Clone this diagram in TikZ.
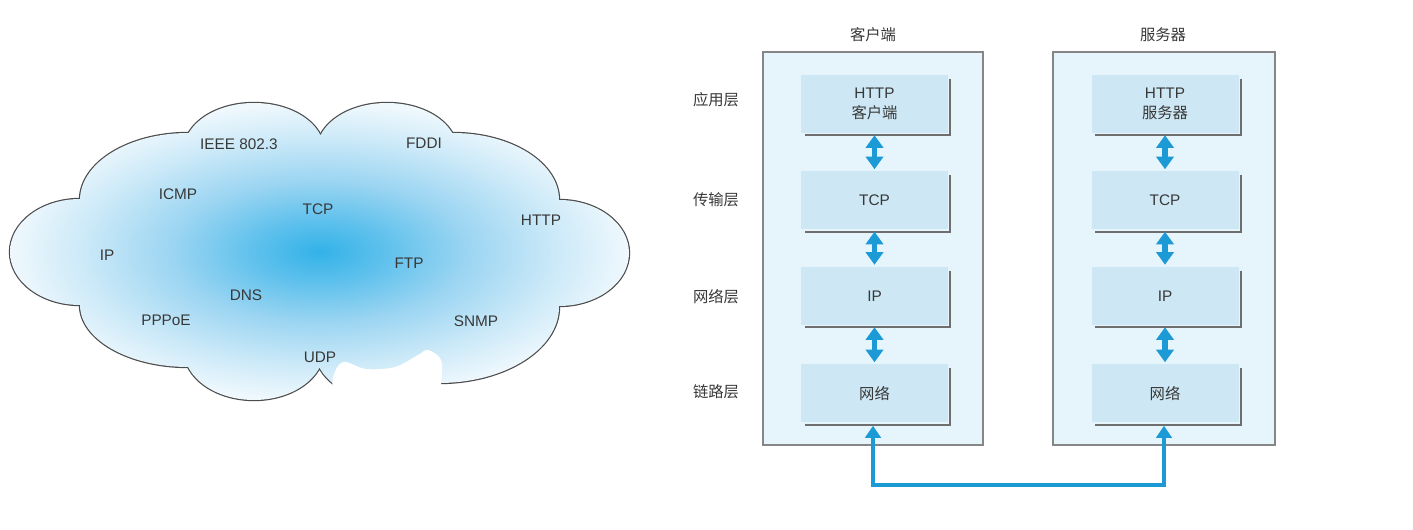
\documentclass[tikz,border=0pt]{standalone}
\usepackage{fontspec}
\setmainfont{Liberation Sans}
\newfontfamily\cjk{Noto Sans CJK SC}
\usetikzlibrary{arrows.meta,calc}
\definecolor{cloudA}{HTML}{33B2E8}
\definecolor{cloudB}{HTML}{5CC0EC}
\definecolor{cloudC}{HTML}{9CD5F2}
\definecolor{cloudD}{HTML}{CBE9F8}
\definecolor{cloudE}{HTML}{EFF8FD}
\definecolor{txt}{HTML}{383838}
\definecolor{outerfill}{HTML}{E6F4FB}
\definecolor{innerfill}{HTML}{CDE7F4}
\definecolor{framegray}{HTML}{868686}
\definecolor{shadowgray}{HTML}{6E6E6E}
\definecolor{arrowblue}{HTML}{1B9AD6}
\pgfdeclareradialshading{cloudshade}{\pgfpoint{0bp}{0bp}}{color(0bp)=(cloudA); color(5bp)=(cloudB); color(12bp)=(cloudC); color(19bp)=(cloudD); color(25bp)=(cloudE); color(50bp)=(white)}
\tikzset{
  cloudline/.style={draw=black!70, line width=1.8pt},
  proto/.style={font=\fontsize{11.5}{13}\selectfont, text=txt, inner sep=0pt, anchor=center},
  cjklabel/.style={font=\cjk\fontsize{11.5}{13}\selectfont, text=txt, inner sep=0pt, anchor=center},
  outerbox/.style={draw=framegray, fill=outerfill, line width=0.8pt, inner sep=0pt},
  layerbox/.style={fill=innerfill, minimum width=110.25pt, minimum height=43.5pt, inner sep=0pt, text=txt, font=\fontsize{11.5}{15}\selectfont, align=center},
  shadowline/.style={draw=shadowgray, line width=1.6pt},
  dblarrow/.style={draw=arrowblue, line width=4pt, {Triangle[width=13pt,length=9.5pt]}-{Triangle[width=13pt,length=9.5pt]}, shorten <=1.5pt, shorten >=1.5pt},
  busarrow/.style={draw=arrowblue, line width=3pt, line join=miter, {Triangle[width=11.5pt,length=9pt]}-{Triangle[width=11.5pt,length=9pt]}}
}
\begin{document}
\begin{tikzpicture}[x=0.75pt,y=-0.75pt]
\useasboundingbox (0,0) rectangle (1413,530);
% ---------- cloud ----------
\foreach \cx/\cy/\ra/\rb in {80/252/70/53, 188/200/108/67, 254/150/70/47, 387/150/70/47, 453/200/106/67, 559/253/70/53, 439/307/120/76, 385/350/70/50, 254/350/70/50, 188/305/108/62}
  {\draw[cloudline] (\cx,\cy) ellipse [x radius=\ra, y radius=\rb];}
\shade[shading=cloudshade]
  (80,252) ellipse [x radius=70, y radius=53]
  (188,200) ellipse [x radius=108, y radius=67]
  (254,150) ellipse [x radius=70, y radius=47]
  (387,150) ellipse [x radius=70, y radius=47]
  (453,200) ellipse [x radius=106, y radius=67]
  (559,253) ellipse [x radius=70, y radius=53]
  (439,307) ellipse [x radius=120, y radius=76]
  (385,350) ellipse [x radius=70, y radius=50]
  (254,350) ellipse [x radius=70, y radius=50]
  (188,305) ellipse [x radius=108, y radius=62]
  (320,252) ellipse [x radius=250, y radius=110];
\fill[white] plot[smooth cycle, tension=0.55] coordinates {(333,378) (343,362) (366,369) (395,367) (418,355) (428,350) (441,360) (441,384) (436,396) (420,412) (360,414) (336,400)};
\node[proto] (ieee) at (239,144) {IEEE 802.3};
\node[proto] (fddi) at (424,143) {FDDI};
\node[proto] (icmp) at (178,194) {ICMP};
\node[proto] (tcpc) at (318,209) {TCP};
\node[proto] (httpc) at (541,220) {HTTP};
\node[proto] (ipc) at (107,255) {IP};
\node[proto] (ftp) at (409,263) {FTP};
\node[proto] (dns) at (246,295) {DNS};
\node[proto] (pppoe) at (166,320) {PPPoE};
\node[proto] (snmp) at (476,321) {SNMP};
\node[proto] (udp) at (320,357) {UDP};
% ---------- layers ----------
\node[outerbox, minimum width=165pt, minimum height=294.75pt] (client) at (873,248.5) {};
\node[outerbox, minimum width=166.5pt, minimum height=294.75pt] (server) at (1164,248.5) {};
\node[cjklabel] (ctitle) at (873,35) {客户端};
\node[cjklabel] (stitle) at (1163,35) {服务器};
\node[cjklabel] (l1) at (716,100) {应用层};
\node[cjklabel] (l2) at (716,200) {传输层};
\node[cjklabel] (l3) at (716,297) {网络层};
\node[cjklabel] (l4) at (716,392) {链路层};
\node[layerbox] (c1) at (874.5,104) {HTTP\\{\cjk 客户端}};
\node[layerbox] (c2) at (874.5,200.5) {TCP};
\node[layerbox] (c3) at (874.5,296) {IP};
\node[layerbox] (c4) at (874.5,393.5) {\cjk 网络};
\node[layerbox] (s1) at (1165,104) {HTTP\\{\cjk 服务器}};
\node[layerbox] (s2) at (1165,200.5) {TCP};
\node[layerbox] (s3) at (1165,296) {IP};
\node[layerbox] (s4) at (1165,393.5) {\cjk 网络};
\foreach \b in {c1,c2,c3,c4,s1,s2,s3,s4}
  {\draw[shadowline] ($(\b.north east)+(2,4)$) -- ($(\b.south east)+(2,2)$) -- ($(\b.south west)+(4,2)$);}
\draw[dblarrow] (c1.south) -- (c2.north);
\draw[dblarrow] (c2.south) -- (c3.north);
\draw[dblarrow] (c3.south) -- (c4.north);
\draw[dblarrow] (s1.south) -- (s2.north);
\draw[dblarrow] (s2.south) -- (s3.north);
\draw[dblarrow] (s3.south) -- (s4.north);
\coordinate (bus) at (1000,485);
\draw[busarrow] ($(c4.south)+(-1.5,3)$) -- ($(c4.south |- bus)+(-1.5,0)$) -- ($(s4.south |- bus)+(-1,0)$) -- ($(s4.south)+(-1,3)$);
\end{tikzpicture}
\end{document}
